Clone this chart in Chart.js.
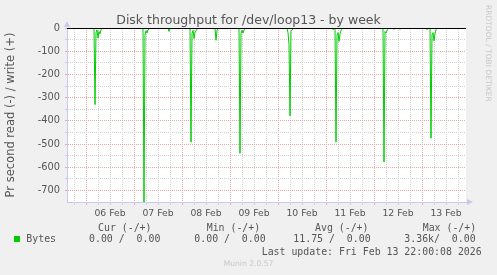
<!DOCTYPE html>
<html>
<head>
<meta charset="utf-8">
<script src="https://cdn.jsdelivr.net/npm/chart.js@4/dist/chart.umd.min.js"></script>
<style>
  html, body { margin: 0; padding: 0; background: #f0f0f0; }
  #wrap { position: relative; width: 497px; height: 275px; overflow: hidden; }
  #chart { position: absolute; left: 0; top: 0; }
  .t { position: absolute; font-family: 'DejaVu Sans Mono', monospace; font-size: 9.9px; line-height: 12px; color: #555; white-space: pre; }
  #swatch { position: absolute; left: 14px; top: 236px; width: 6px; height: 6px; background: #00cc00; }
  #munin { position: absolute; left: 0; width: 497px; top: 259px; text-align: center; font-family: 'DejaVu Sans', sans-serif; font-size: 7.6px; line-height: 10px; color: #c8c8c8; }
  #rrd { position: absolute; left: 484px; top: 5px; writing-mode: vertical-rl; font-family: 'DejaVu Sans', sans-serif; font-size: 7.5px; line-height: 9px; color: #c8c8c8; }
</style>
</head>
<body>
<div id="wrap">
  <canvas id="chart" width="497" height="275"></canvas>
  <div id="legend"></div>
  <div id="munin">Munin 2.0.57</div>
  <div id="rrd">RRDTOOL / TOBI OETIKER</div>
</div>
<script>
// x values are hours since 06 Feb 00:00 (30 min samples, flat stretches left out)
const dayLabels = ['06 Feb', '07 Feb', '08 Feb', '09 Feb', '10 Feb', '11 Feb', '12 Feb', '13 Feb'];
const yTickLabels = [0, -100, -200, -300, -400, -500, -600, -700];
const hours = [
  -9.5,
  4.0, 4.5, 5.0, 5.5, 6.0, 6.5, 7.0, 7.5, 8.0, 8.5,
  28.5, 29.0, 29.5, 30.0, 30.5, 31.0, 31.5, 32.0,
  41.0, 41.5, 42.0,
  52.0, 52.5, 53.0, 53.5, 54.0, 54.5, 55.0, 55.5, 56.0,
  64.5, 65.0, 65.5, 66.0,
  76.5, 77.0, 77.5, 78.0, 78.5, 79.0, 79.5, 80.0,
  100.5, 101.0, 101.5, 102.0, 102.5, 103.0, 103.5, 104.0,
  123.0, 123.5, 124.0, 124.5, 125.0, 125.5, 126.0, 126.5, 127.0, 127.5, 128.0, 128.5,
  148.5, 149.0, 149.5, 150.0, 150.5, 151.0, 151.5, 153.5, 154.0, 154.5, 156.5, 157.0, 157.5,
  170.0, 170.5, 171.0, 172.0, 172.5, 173.0, 173.5, 174.0, 174.5, 175.0, 175.5,
  190.0
];
const readBytes = [
  0,
  0, -330, -20, -8, -43, -15, -25, -8, -3, 0,
  0, -765, -30, -12, -22, -8, -5, 0,
  0, -15, 0,
  0, -492, -25, -10, -45, -20, -12, -5, 0,
  0, -53, -10, 0,
  0, -540, -25, -10, -22, -8, -4, 0,
  0, -20, -72, -378, -15, -8, -5, 0,
  0, -7, -3, 0, -492, -30, -20, -58, -25, -12, -5, 0,
  0, -578, -15, -22, -12, -5, 0, 0, -6, 0, 0, -6, 0,
  0, -7, 0, 0, -475, -30, -20, -55, -25, -8, 0,
  0
];
const legendHeads = ['Cur (-/+)', 'Min (-/+)', 'Avg (-/+)', 'Max (-/+)'];
const legendValues = ['0.00 /  0.00', '0.00 /  0.00', '11.75 /  0.00', '3.36k/  0.00'];
const lastUpdate = 'Last update: Fri Feb 13 22:00:08 2026';

// legend block under the plot
const legend = document.getElementById('legend');
const headX = [98, 206.7, 315, 422.7];
const valX = [89, 194.3, 293.3, 404.3];
function addText(txt, x, y) {
  const d = document.createElement('div');
  d.className = 't';
  d.style.left = x + 'px';
  d.style.top = y + 'px';
  d.textContent = txt;
  legend.appendChild(d);
}
legendHeads.forEach((h, i) => addText(h, headX[i], 221.5));
const sw = document.createElement('div');
sw.id = 'swatch';
legend.appendChild(sw);
addText('Bytes', 26.3, 233.3);
legendValues.forEach((v, i) => addText(v, valX[i], 233.3));
addText(lastUpdate, 261.7, 245.7);

const axisColor = '#c8c8f0';
const minorGrid = '#d2d2d2';
const majorGrid = '#e8a8a8';

const framePlugin = {
  id: 'frame',
  beforeDraw(chart) {
    const { ctx, chartArea: a } = chart;
    ctx.save();
    ctx.fillStyle = '#ffffff';
    ctx.fillRect(a.left, a.top, a.right - a.left, a.bottom - a.top);
    ctx.restore();
  },
  afterDatasetsDraw(chart) {
    // black zero rule
    const { ctx, chartArea: a, scales } = chart;
    const y0 = Math.round(scales.y.getPixelForValue(0)) + 0.5;
    ctx.save();
    ctx.strokeStyle = '#000000';
    ctx.lineWidth = 1;
    ctx.beginPath();
    ctx.moveTo(a.left, y0);
    ctx.lineTo(a.right, y0);
    ctx.stroke();
    ctx.restore();
  },
  afterDraw(chart) {
    // axis arrows
    const { ctx, chartArea: a } = chart;
    ctx.save();
    ctx.fillStyle = axisColor;
    ctx.beginPath();
    ctx.moveTo(a.left - 3, a.top - 1);
    ctx.lineTo(a.left + 3, a.top - 1);
    ctx.lineTo(a.left, a.top - 7);
    ctx.closePath();
    ctx.fill();
    ctx.beginPath();
    ctx.moveTo(a.right + 1, a.bottom - 3);
    ctx.lineTo(a.right + 1, a.bottom + 3);
    ctx.lineTo(a.right + 7, a.bottom);
    ctx.closePath();
    ctx.fill();
    ctx.restore();
  }
};

new Chart(document.getElementById('chart'), {
  type: 'line',
  data: {
    datasets: [{
      label: 'Bytes',
      data: hours.map((h, i) => ({ x: h, y: readBytes[i] })),
      xAxisID: 'x',
      yAxisID: 'y',
      borderColor: '#00cc00',
      borderWidth: 1,
      pointRadius: 0,
      tension: 0,
      fill: false
    }]
  },
  options: {
    responsive: false,
    animation: false,
    events: [],
    layout: { padding: { left: 0, right: 0, top: 0, bottom: 53 } },
    plugins: {
      legend: { display: false },
      tooltip: { enabled: false },
      title: {
        display: true,
        text: 'Disk throughput for /dev/loop13 - by week',
        color: '#555',
        font: { family: 'DejaVu Sans', size: 12.5, weight: 'normal', lineHeight: 1.2 },
        padding: { top: 13, bottom: 0 }
      }
    },
    scales: {
      x: {
        type: 'linear',
        min: -9.5,
        max: 190,
        afterFit: s => { s.height = 20; },
        afterBuildTicks: s => {
          const t = [];
          for (let v = -6; v <= 186; v += 6) t.push({ value: v });
          s.ticks = t;
        },
        ticks: {
          autoSkip: false,
          maxRotation: 0,
          padding: 3,
          color: '#555',
          font: { family: 'DejaVu Sans', size: 9.3 },
          callback: v => (((v % 24) + 24) % 24 === 12 ? dayLabels[(v - 12) / 24] : '')
        },
        grid: {
          tickLength: 3,
          color: c => (c.tick && c.tick.value % 24 === 0 ? majorGrid : minorGrid),
          tickColor: c => (c.tick && c.tick.value % 24 === 0 ? majorGrid : minorGrid)
        },
        border: { color: axisColor, width: 1, dash: [1, 1] }
      },
      y: {
        type: 'linear',
        position: 'left',
        min: -750,
        max: 0,
        afterFit: s => { s.width = 67; },
        afterBuildTicks: s => {
          const t = [];
          for (let v = -700; v <= 0; v += 50) t.push({ value: v });
          s.ticks = t;
        },
        ticks: {
          autoSkip: false,
          padding: 5,
          color: '#555',
          font: { family: 'DejaVu Sans', size: 9.8 },
          callback: v => (yTickLabels.includes(v) ? String(v) : '')
        },
        grid: {
          tickLength: 2,
          color: c => (c.tick && c.tick.value % 100 === 0 ? majorGrid : minorGrid),
          tickColor: c => (c.tick && c.tick.value % 100 === 0 ? majorGrid : minorGrid)
        },
        border: { color: axisColor, width: 1, dash: [1, 1] },
        title: {
          display: true,
          text: 'Pr second read (-) / write (+)',
          color: '#555',
          font: { family: 'DejaVu Sans', size: 11.5, lineHeight: 1.2 },
          padding: { top: 4, bottom: 0 }
        }
      },
      // empty right-hand margin so the title centres on the whole image
      yRight: {
        type: 'linear',
        position: 'right',
        display: true,
        min: -750,
        max: 0,
        afterFit: s => { s.width = 31; },
        ticks: { display: false },
        grid: { display: false, drawTicks: false },
        border: { display: false }
      }
    }
  },
  plugins: [framePlugin]
});
</script>
</body>
</html>
